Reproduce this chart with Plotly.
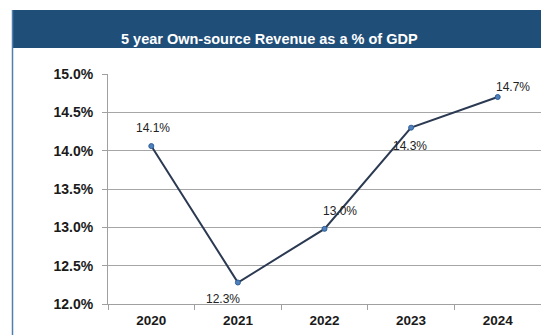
import plotly.graph_objects as go

years = ["2020", "2021", "2022", "2023", "2024"]
revenue_pct = [14.06, 12.28, 12.98, 14.30, 14.70]
label_text = ["14.1%", "12.3%", "13.0%", "14.3%", "14.7%"]
label_dx = [2, -15, 15, -1, 15]
label_dy = [18, -16, 18, -18, 10]
y_ticks = [12.0, 12.5, 13.0, 13.5, 14.0, 14.5, 15.0]

W, H = 541, 335
L, R, T, B = 108, 0, 74, 31
pw, ph = W - L - R, H - T - B

def px(x):
    return (x - L) / pw

def py(y):
    return (H - B - y) / ph

fig = go.Figure()
fig.add_trace(go.Scatter(
    x=years, y=revenue_pct, mode="lines+markers",
    line=dict(color="#2B3A52", width=2),
    marker=dict(color="#4F81BD", size=5, line=dict(color="#2F5F98", width=1)),
    hoverinfo="skip", showlegend=False,
))

for i, (v, t, dx, dy) in enumerate(zip(revenue_pct, label_text, label_dx, label_dy)):
    fig.add_annotation(x=i, y=v, xref="x", yref="y", text=t, showarrow=False,
                       xshift=dx, yshift=dy,
                       font=dict(family="Liberation Sans, Arial", size=12, color="#222222"))

# title bar
fig.add_shape(type="rect", xref="paper", yref="paper",
              x0=px(12), x1=px(545), y0=py(48), y1=py(10),
              fillcolor="#1F4E79", line=dict(width=0), layer="below")
# left frame border
fig.add_shape(type="line", xref="paper", yref="paper",
              x0=px(12.5), x1=px(12.5), y0=py(10), y1=py(340),
              line=dict(color="#4F7FB0", width=1.5))
fig.add_annotation(xref="paper", yref="paper", x=px(269), y=py(29),
                   text="<b>5 year Own-source Revenue as a % of GDP</b>", showarrow=False,
                   font=dict(family="Liberation Sans, Arial", size=14.5, color="white"))

fig.update_layout(
    width=W, height=H, margin=dict(l=L, r=R, t=T, b=B),
    paper_bgcolor="white", plot_bgcolor="white",
    font=dict(family="Liberation Sans, Arial", size=13, color="#1A1A1A"),
    xaxis=dict(type="category", showgrid=False, showline=True, linecolor="#A0A0A0", linewidth=1,
               ticks="outside", tickson="boundaries", ticklen=5, tickcolor="#A0A0A0",
               ticklabelstandoff=4,
               tickfont=dict(family="Liberation Sans, Arial", size=13.5, color="#1A1A1A", weight="bold"),
               range=[-0.5, 4.5], fixedrange=True),
    yaxis=dict(range=[12.0, 15.0], tickvals=y_ticks, ticktext=[f"{v:.1f}%" for v in y_ticks],
               showgrid=True, gridcolor="#A6A6A6", gridwidth=1,
               showline=True, linecolor="#A0A0A0", linewidth=1,
               ticks="outside", ticklen=5, tickcolor="#A0A0A0",
               ticklabelstandoff=6,
               tickfont=dict(family="Liberation Sans, Arial", size=14, color="#1A1A1A", weight="bold"),
               zeroline=False, fixedrange=True),
)

fig.write_html("out.html")
